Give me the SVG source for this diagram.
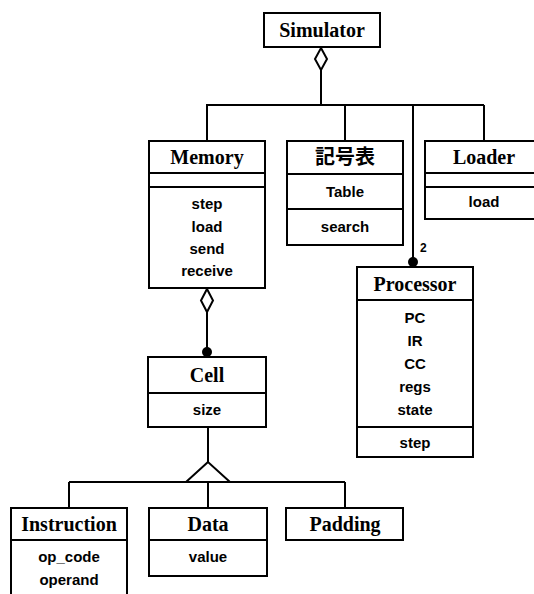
<svg xmlns="http://www.w3.org/2000/svg" width="534" height="594" viewBox="0 0 534 594">
<style>
.box{fill:#fff;stroke:#000;stroke-width:2}
.sep{stroke:#000;stroke-width:2}
.ln{fill:none;stroke:#000;stroke-width:2}
.t{font-family:"Liberation Serif","Noto Sans CJK JP",serif;font-weight:bold;font-size:20px;text-anchor:middle;fill:#000}
.a{font-family:"Liberation Sans",Arial,sans-serif;font-weight:bold;font-size:15px;text-anchor:middle;fill:#000}
.m{font-family:"Liberation Sans",Arial,sans-serif;font-weight:bold;font-size:12px;fill:#000}
</style>
<rect width="534" height="594" fill="#fff"/>
<g id="connectors">
<path class="ln" d="M321 70 V105 M206 105 H484 M207 105 V141 M345 105 V141 M484 105 V141 M413 105 V262"/>
<path d="M321 48 L327 59 L321 70 L315 59 Z" fill="#fff" stroke="#000" stroke-width="2"/>
<circle cx="413" cy="262" r="5" fill="#000"/>
<text class="m" x="420" y="252">2</text>
<path class="ln" d="M207 312 V352"/>
<path d="M207 289 L213 300.5 L207 312 L201 300.5 Z" fill="#fff" stroke="#000" stroke-width="2"/>
<circle cx="207" cy="352" r="5" fill="#000"/>
<path class="ln" d="M208 427 V462 M69 482 H345 M69 482 V508 M208 482 V508 M345 482 V508"/>
<path d="M208 462 L186 482 L230 482 Z" fill="#fff" stroke="#000" stroke-width="2"/>
</g>
<g id="simulator">
<rect class="box" x="264" y="13" width="116" height="34"/>
<text class="t" x="322" y="37">Simulator</text>
</g>
<g id="memory">
<rect class="box" x="149" y="141" width="116" height="147"/>
<line class="sep" x1="149" y1="173" x2="265" y2="173"/>
<line class="sep" x1="149" y1="187" x2="265" y2="187"/>
<text class="t" x="207" y="164">Memory</text>
<text class="a" x="207" y="209">step</text>
<text class="a" x="207" y="232">load</text>
<text class="a" x="207" y="254">send</text>
<text class="a" x="207" y="276">receive</text>
</g>
<g id="kigouhyou">
<rect class="box" x="287" y="141" width="116" height="104"/>
<line class="sep" x1="287" y1="174" x2="403" y2="174"/>
<line class="sep" x1="287" y1="209" x2="403" y2="209"/>
<text class="t" x="345" y="164">記号表</text>
<text class="a" x="345" y="197">Table</text>
<text class="a" x="345" y="232">search</text>
</g>
<g id="loader">
<rect class="box" x="425" y="141" width="117" height="78"/>
<line class="sep" x1="425" y1="173" x2="542" y2="173"/>
<line class="sep" x1="425" y1="187" x2="542" y2="187"/>
<text class="t" x="484" y="164">Loader</text>
<text class="a" x="484" y="207">load</text>
</g>
<g id="processor">
<rect class="box" x="357" y="267" width="116" height="190"/>
<line class="sep" x1="357" y1="300" x2="473" y2="300"/>
<line class="sep" x1="357" y1="427" x2="473" y2="427"/>
<text class="t" x="415" y="291">Processor</text>
<text class="a" x="415" y="323">PC</text>
<text class="a" x="415" y="346">IR</text>
<text class="a" x="415" y="369">CC</text>
<text class="a" x="415" y="392">regs</text>
<text class="a" x="415" y="415">state</text>
<text class="a" x="415" y="448">step</text>
</g>
<g id="cell">
<rect class="box" x="148" y="357" width="118" height="70"/>
<line class="sep" x1="148" y1="393" x2="266" y2="393"/>
<text class="t" x="207" y="382">Cell</text>
<text class="a" x="207" y="415">size</text>
</g>
<g id="instruction">
<rect class="box" x="11" y="508" width="116" height="100"/>
<line class="sep" x1="11" y1="540" x2="127" y2="540"/>
<text class="t" x="69" y="531">Instruction</text>
<text class="a" x="69" y="562">op_code</text>
<text class="a" x="69" y="585">operand</text>
</g>
<g id="data">
<rect class="box" x="149" y="508" width="118" height="68"/>
<line class="sep" x1="149" y1="540" x2="267" y2="540"/>
<text class="t" x="208" y="531">Data</text>
<text class="a" x="208" y="562">value</text>
</g>
<g id="padding">
<rect class="box" x="286" y="508" width="117" height="32"/>
<text class="t" x="345" y="531">Padding</text>
</g>
</svg>
